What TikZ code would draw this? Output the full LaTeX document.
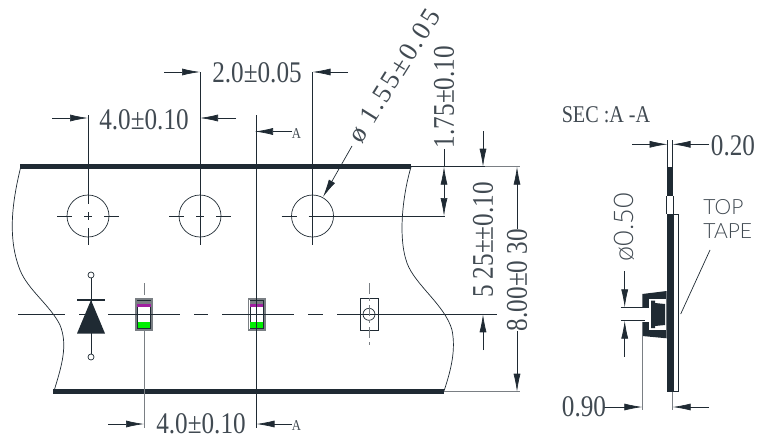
\documentclass[tikz,border=0pt]{standalone}
\usepackage{fontspec}
\usepackage{tikz}
\usetikzlibrary{arrows.meta}
\newfontfamily\dimfont[FakeStretch=0.84]{Liberation Serif}
\newfontfamily\holefont[LetterSpace=9]{Liberation Serif}
\newfontfamily\thinfont{Lato Light}
\definecolor{inkdark}{HTML}{1F2A33}
\definecolor{inkgray}{HTML}{7A7F84}
\definecolor{padgreen}{HTML}{00F000}
\definecolor{padpink}{HTML}{A020A0}
\newcommand{\ledpackage}[1]{%
	\fill[white] (#1-9,298) rectangle (#1+9,331);
	\draw[inkgray,line width=1.6pt] (#1-8.2,298.8) rectangle (#1+8.2,330);
	\draw[inkdark,line width=0.5pt] (#1-6.6,300.4) rectangle (#1+6.6,328.4);
	\fill[inkgray] (#1-6.6,301) rectangle (#1+6.6,304);
	\fill[padpink] (#1-6.6,304) rectangle (#1+6.6,306.5);
	\fill[padgreen] (#1-6.3,322) rectangle (#1+6.3,328);
}

\begin{document}
\begin{tikzpicture}[x=1pt, y=-1pt, line width=0.7pt, draw=inkdark,
		every node/.style={text=inkdark!85},
		dimlabel/.style={font=\dimfont\fontsize{30}{30}\selectfont, inner sep=0pt},
		smalllabel/.style={font=\dimfont\fontsize{15}{15}\selectfont, inner sep=0pt},
		thinlabel/.style={font=\thinfont\fontsize{21}{24}\selectfont, inner sep=0pt},
		dimarrow/.style={-{Latex[length=18pt,width=7pt]}, inkdark},
		band/.style={line width=5pt, inkdark},
		grayline/.style={inkgray}]
		\useasboundingbox (0,0) rectangle (759,439);

		% Top and bottom edges of the tape
		\draw[band] (20,166.7) -- (411,166.7);
		\draw[band] (53,391.7) -- (444,391.7);
		\draw (411,166.7) -- (485,166.7);
		\draw[grayline] (485,166.7) -- (520,166.7);
		\draw[grayline] (444,391.7) -- (520,391.7);

		% Torn ends
		\draw (20.7,167) .. controls (14,195) and (6,235) .. (20,270) .. controls (28,290) and (50,305) .. (60,325) .. controls (68,345) and (62,365) .. (54,391);
		\draw (411,167) .. controls (404,190) and (397,235) .. (407,263) .. controls (415,285) and (445,305) .. (452,330) .. controls (456,350) and (451,370) .. (444,391);

		% Sprocket holes
		\foreach \holex in {88,200,312.5} {
			\draw (\holex,216) circle (21);
			\draw (\holex-31,216) -- (\holex-16,216);
			\draw (\holex-4,216) -- (\holex+4,216);
			\draw (\holex+16,216) -- (\holex+31,216);
		}
		\draw (312.5,216) -- (445,216);
		\draw (88,115) -- (88,204);
		\draw (88,212) -- (88,220);
		\draw (88,228) -- (88,245);
		\draw (200,72) -- (200,245);
		\draw (312.5,72) -- (312.5,245);

		% Center line of the pockets
		\draw (18,314.3) -- (65,314.3);
		\draw (79,314.3) -- (88,314.3);
		\draw (108,314.3) -- (180,314.3);
		\draw (194,314.3) -- (208,314.3);
		\draw (222,314.3) -- (294,314.3);
		\draw (308,314.3) -- (323,314.3);
		\draw (337,314.3) -- (497,314.3);

		% Diode symbol
		\draw (91,278) -- (91,354);
		\draw (91,275) circle (3);
		\draw (91,357) circle (3);
		\draw[line width=2pt] (77,300) -- (105,300);
		\fill[inkdark] (77,333.5) -- (105,333.5) -- (91,300) -- cycle;

		% LED packages
		\draw[grayline,line width=1pt] (144,283) -- (144,295);
		\draw[grayline,line width=1pt] (144,331) -- (144,428);
		\draw (256.5,115) -- (256.5,428);
		\ledpackage{144}
		\ledpackage{256.5}
		\draw (126,314.3) -- (162,314.3);
		\draw (238,314.3) -- (275,314.3);
		\draw (256.5,296) -- (256.5,335);

		% Empty pocket
		\draw (360,298) rectangle (378,330.5);
		\draw (369,314.3) circle (6);
		\draw[grayline,dash pattern=on 11pt off 4pt on 3pt off 4pt] (369,283) -- (369,346);

		% Dimensions on the top
		\draw[dimarrow] (164,72) -- (200,72);
		\draw[dimarrow] (348,72) -- (312.5,72);
		\node[dimlabel] (pitchhalf) at (257,73) {2.0±0.05};
		\draw[dimarrow] (52,118) -- (88,118);
		\draw[dimarrow] (236,118) -- (200,118);
		\node[dimlabel] (pitchhole) at (144,120) {4.0±0.10};
		\draw[dimarrow] (292,131.5) -- (255,131.5);
		\node[smalllabel] (sectop) at (296.5,134) {A};
		\node[dimlabel,font=\holefont\fontsize{27}{27}\selectfont,rotate=58] (holedia) at (394,76) {ø 1.55±0.05};
		\draw[dimarrow] (352,146) -- (323,197);

		% Dimensions on the right
		\node[dimlabel,rotate=90] (holeedge) at (444,97) {1.75±0.10};
		\draw[dimarrow] (444,190) -- (444,166.7);
		\draw[dimarrow] (444,190) -- (444,216);
		\draw (444,149) -- (444,167);
		\draw[dimarrow] (483,131) -- (483,166.7);
		\draw[dimarrow] (483,350) -- (483,314.3);
		\node[dimlabel,rotate=90] (holecenter) at (483,240) {5 25±±0.10};
		\node[dimlabel,rotate=90] (tapewidth) at (517,280) {8.00±0 30};
		\draw[dimarrow] (517,229) -- (517,166.7);
		\draw[dimarrow] (517,331) -- (517,391.7);

		% Dimensions at the bottom
		\draw[dimarrow] (108,424) -- (144,424);
		\draw[dimarrow] (292,424) -- (256.5,424);
		\node[dimlabel] (pitchled) at (201,424) {4.0±0.10};
		\node[smalllabel] (secbottom) at (296.5,426) {A};

		% Section A-A
		\node[dimlabel,font=\dimfont\fontsize{24}{24}\selectfont] (sectitle) at (606,115) {SEC :A -A};
		\fill[inkdark] (666.7,166.7) rectangle (673.3,196);
		\fill[inkdark] (666.7,214) rectangle (673.3,391.7);
		\draw (666.7,196) -- (666.7,214);
		\draw (673.3,196) -- (673.3,214);
		\draw (673.3,214) rectangle (678.7,391.7);

		% Pocket and chip
		\fill[inkdark] (666.7,291) -- (642.3,294) -- (642.3,336) -- (666.7,338.3) -- cycle;
		\fill[white] (649.3,299.3) rectangle (666,330);
		\fill[white] (642,308) rectangle (650,321.5);
		\fill[inkdark] (651,300.7) -- (655,300.7) -- (655,303) -- (665,304) -- (665,325) -- (655,326) -- (655,328) -- (651,328) -- cycle;

		% Dimensions of the section
		\draw (667.5,140) -- (667.5,167);
		\draw (672.5,140) -- (672.5,167);
		\draw[dimarrow] (632,144.3) -- (667.5,144.3);
		\draw[dimarrow] (709,144.3) -- (672.5,144.3);
		\node[dimlabel] (tapethick) at (733,146) {0.20};
		\draw (620.7,307.3) -- (645,307.3);
		\draw (620.7,320.7) -- (645,320.7);
		\draw[dimarrow] (624.7,271) -- (624.7,307.3);
		\draw[dimarrow] (624.7,356.7) -- (624.7,320.7);
		\node[thinlabel,font=\thinfont\fontsize{27}{27}\selectfont,rotate=90] (lensdia) at (624,227) {ø0.50};
		\node[thinlabel,align=left,anchor=west] (toptape) at (703,219) {TOP\\TAPE};
		\draw (710,250) -- (680.7,314);
		\draw[grayline] (642.3,336) -- (642.3,410);
		\draw[grayline] (672.7,392) -- (672.7,410);
		\draw[dimarrow] (604,407) -- (642.3,407);
		\draw[dimarrow] (709,407) -- (672.7,407);
		\node[dimlabel] (pocketdepth) at (584,407) {0.90};
	\end{tikzpicture}
\end{document}
